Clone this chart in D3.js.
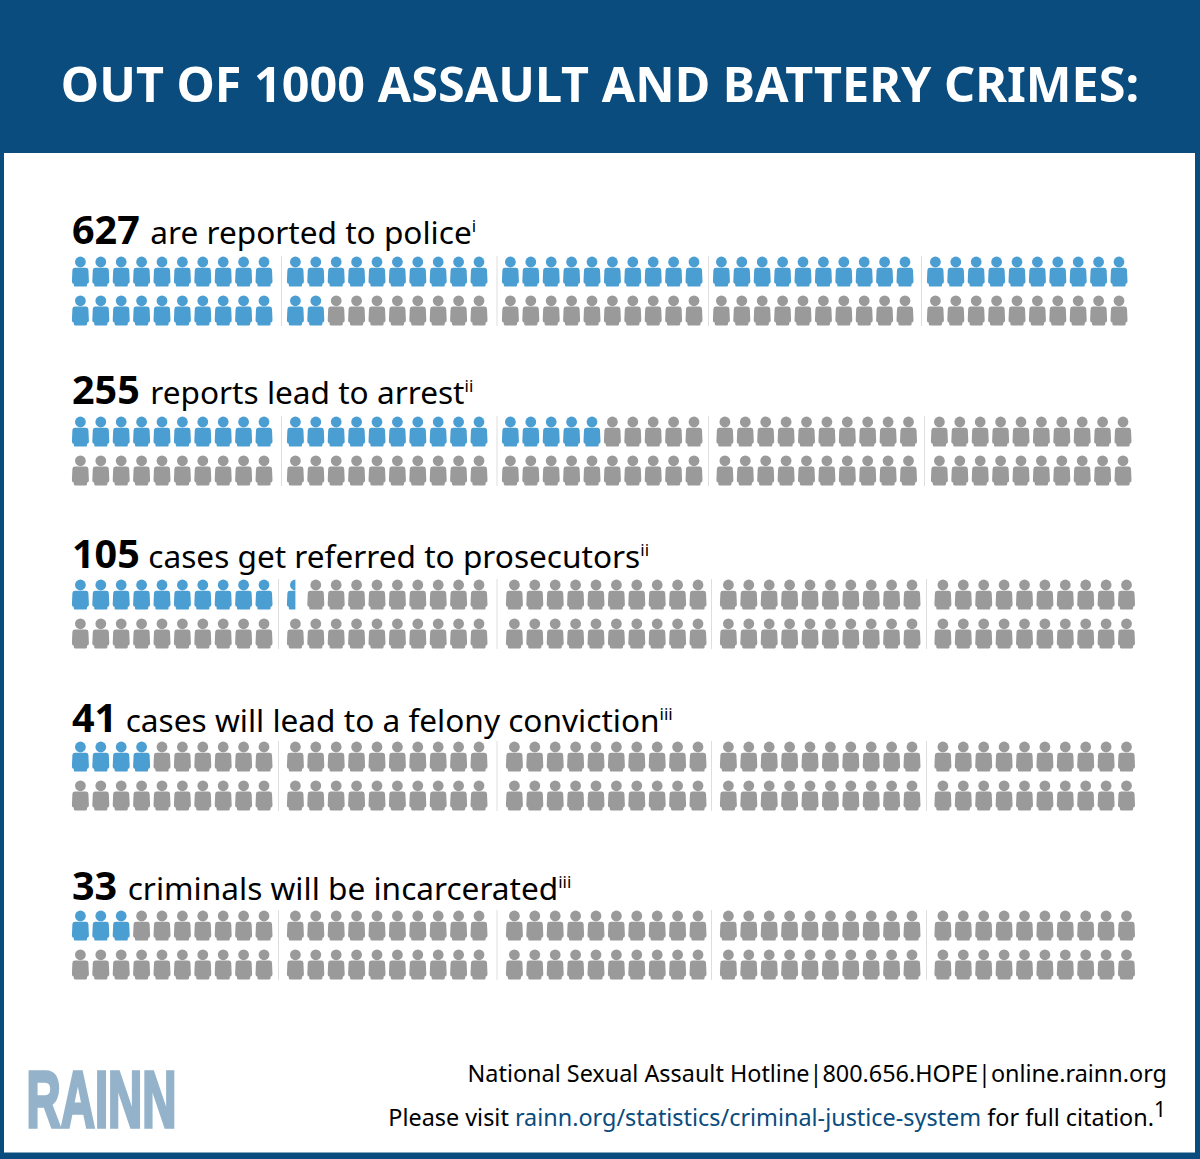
<!DOCTYPE html>
<html>
<head>
<meta charset="utf-8">
<script src="https://cdn.jsdelivr.net/npm/d3@7"></script>
<style>
  html, body { margin: 0; padding: 0; background: #fff; }
  svg { display: block; }
  text { font-family: 'Noto Sans', sans-serif; }
</style>
</head>
<body>
<svg id="chart" width="1200" height="1159"></svg>
<script>
const title = 'OUT OF 1000 ASSAULT AND BATTERY CRIMES:';
const counts = [627, 255, 105, 41, 33];
const captions = [
  'are reported to police',
  'reports lead to arrest',
  'cases get referred to prosecutors',
  'cases will lead to a felony conviction',
  'criminals will be incarcerated'
];
const notes = ['i', 'ii', 'ii', 'iii', 'iii'];
// figures filled in, out of 100 (each figure is 10 crimes)
const filled = [62, 25, 10.5, 4, 3];

const style = {
  navy: '#0a4c7e',
  blue: '#4b9ed2',
  grey: '#9a9a9a',
  divider: '#dedede',
  logo: '#94b3cb',
  link: '#0a4c7e',
  pitch: 20.4,
}

// left edge of each block of 20 figures, per group
const blockStarts = [
  [72, 287, 502, 713, 927],
  [72, 287, 502, 716.5, 931],
  [72, 287, 506, 720, 934.5],
  [72, 287, 506, 720, 934.5],
  [72, 287, 506, 720, 934.5],
];
const dividerX = [
  [281.5, 497, 708.5, 921.5],
  [281.5, 497, 708.5, 924.5],
  [278.5, 497, 711.5, 926.5],
  [278.5, 497, 711.5, 926.5],
  [278.5, 497, 711.5, 926.5],
];
const captionY = [244, 404, 568, 732, 900];
const rowTop = [256, 416, 579, 741, 910];
const captionGap = [10.5, 10.5, 8.5, 8.5, 10.5];

const svg = d3.select('#chart');

const defs = svg.append('defs');
// one figure, 17 wide and 31 tall
const figure = defs.append('g').attr('id', 'figure');
figure.append('circle').attr('cx', 8.4).attr('cy', 6).attr('r', 5.4);
figure.append('path').attr('d', 'M3 11.8 H13.8 Q16.2 11.8 16.4 14 L16.9 25.5 Q16.9 27.5 15.5 27.7 H15 V29.5 Q15 30.6 13.8 30.6 H3 Q1.8 30.6 1.8 29.5 V27.7 H1.3 Q-0.1 27.5 -0.1 25.5 L0.4 14 Q0.6 11.8 3 11.8 Z');

defs.append('clipPath').attr('id', 'half-figure')
  .append('rect').attr('x', -1).attr('y', 0).attr('width', 9.4).attr('height', 32);

// frame and header
svg.append('rect').attr('width', 1200).attr('height', 1159).attr('fill', style.navy);
svg.append('rect').attr('x', 4).attr('y', 153).attr('width', 1191).attr('height', 999.5).attr('fill', '#fff');
svg.append('text')
  .attr('x', 600).attr('y', 102)
  .attr('text-anchor', 'middle')
  .attr('font-size', 48.5).attr('font-weight', 700)
  .attr('fill', '#fff')
  .text(title);

const indexX = d3.scaleLinear().domain([0, 1]).range([0, style.pitch]);
const rowY = d3.scalePoint().domain([0, 1]).range([0, 38.8]);

const groups = svg.selectAll('g.group')
  .data(counts)
  .enter()
  .append('g')
    .attr('class', 'group');

groups.each(function(count, g) {
  const sel = d3.select(this);

  const label = sel.append('text').attr('x', 72).attr('y', captionY[g]).attr('fill', '#000');
  label.append('tspan').attr('font-size', 39.5).attr('font-weight', 700).text(count);
  label.append('tspan').attr('dx', captionGap[g]).attr('font-size', 31.6).text(captions[g]);
  label.append('tspan').attr('font-size', 17).attr('dy', -12).text(notes[g]);

  const starts = blockStarts[g];

  // thin lines between blocks
  sel.selectAll('line')
    .data(dividerX[g])
    .enter()
    .append('line')
      .attr('x1', d => d).attr('x2', d => d)
      .attr('y1', rowTop[g]).attr('y2', rowTop[g] + 70)
      .attr('stroke', style.divider).attr('stroke-width', 1);

  // filling runs along the top row first, then wraps through the bottom row
  const order = d3.range(100).map(i => {
    const row = i < 50 ? 0 : 1;
    const pos = i < 50 ? i : i - 50;
    return { block: Math.floor(pos / 10), col: pos % 10, row, i };
  });

  const isPart = d => d.i < filled[g] && d.i + 1 > filled[g];

  const cells = sel.selectAll('g.cell')
    .data(order)
    .enter()
    .append('g')
      .attr('class', 'cell')
      .attr('transform', d => `translate(${starts[d.block] + indexX(d.col)}, ${rowTop[g] + rowY(d.row)})`);

  // a part figure only shows its coloured side
  cells.append('use')
    .attr('href', '#figure')
    .attr('fill', d => d.i < filled[g] ? style.blue : style.grey)
    .attr('clip-path', d => isPart(d) ? 'url(#half-figure)' : null);
});

// logo
svg.append('text')
  .attr('transform', 'translate(26.5, 1127) scale(1, 1.42)')
  .attr('font-size', 56).attr('font-weight', 700)
  .attr('textLength', 150).attr('lengthAdjust', 'spacingAndGlyphs')
  .style('font-family', "'Liberation Sans Narrow', 'Liberation Sans', sans-serif")
  .attr('stroke', style.logo).attr('stroke-width', 2.5)
  .attr('fill', style.logo)
  .text('RAINN');

// footer
svg.append('text')
  .attr('x', 1167).attr('y', 1081.5)
  .attr('text-anchor', 'end').attr('font-size', 23.4).attr('fill', '#000')
  .text('National Sexual Assault Hotline|800.656.HOPE|online.rainn.org');

const foot = svg.append('text')
  .attr('x', 1166).attr('y', 1125.5)
  .attr('text-anchor', 'end').attr('font-size', 23.4).attr('fill', '#000');
foot.append('tspan').text('Please visit ');
foot.append('tspan').attr('fill', style.link).text('rainn.org/statistics/criminal-justice-system');
foot.append('tspan').text(' for full citation.');
foot.append('tspan').attr('font-size', 21).attr('dy', -9).text('1');
</script>
</body>
</html>
